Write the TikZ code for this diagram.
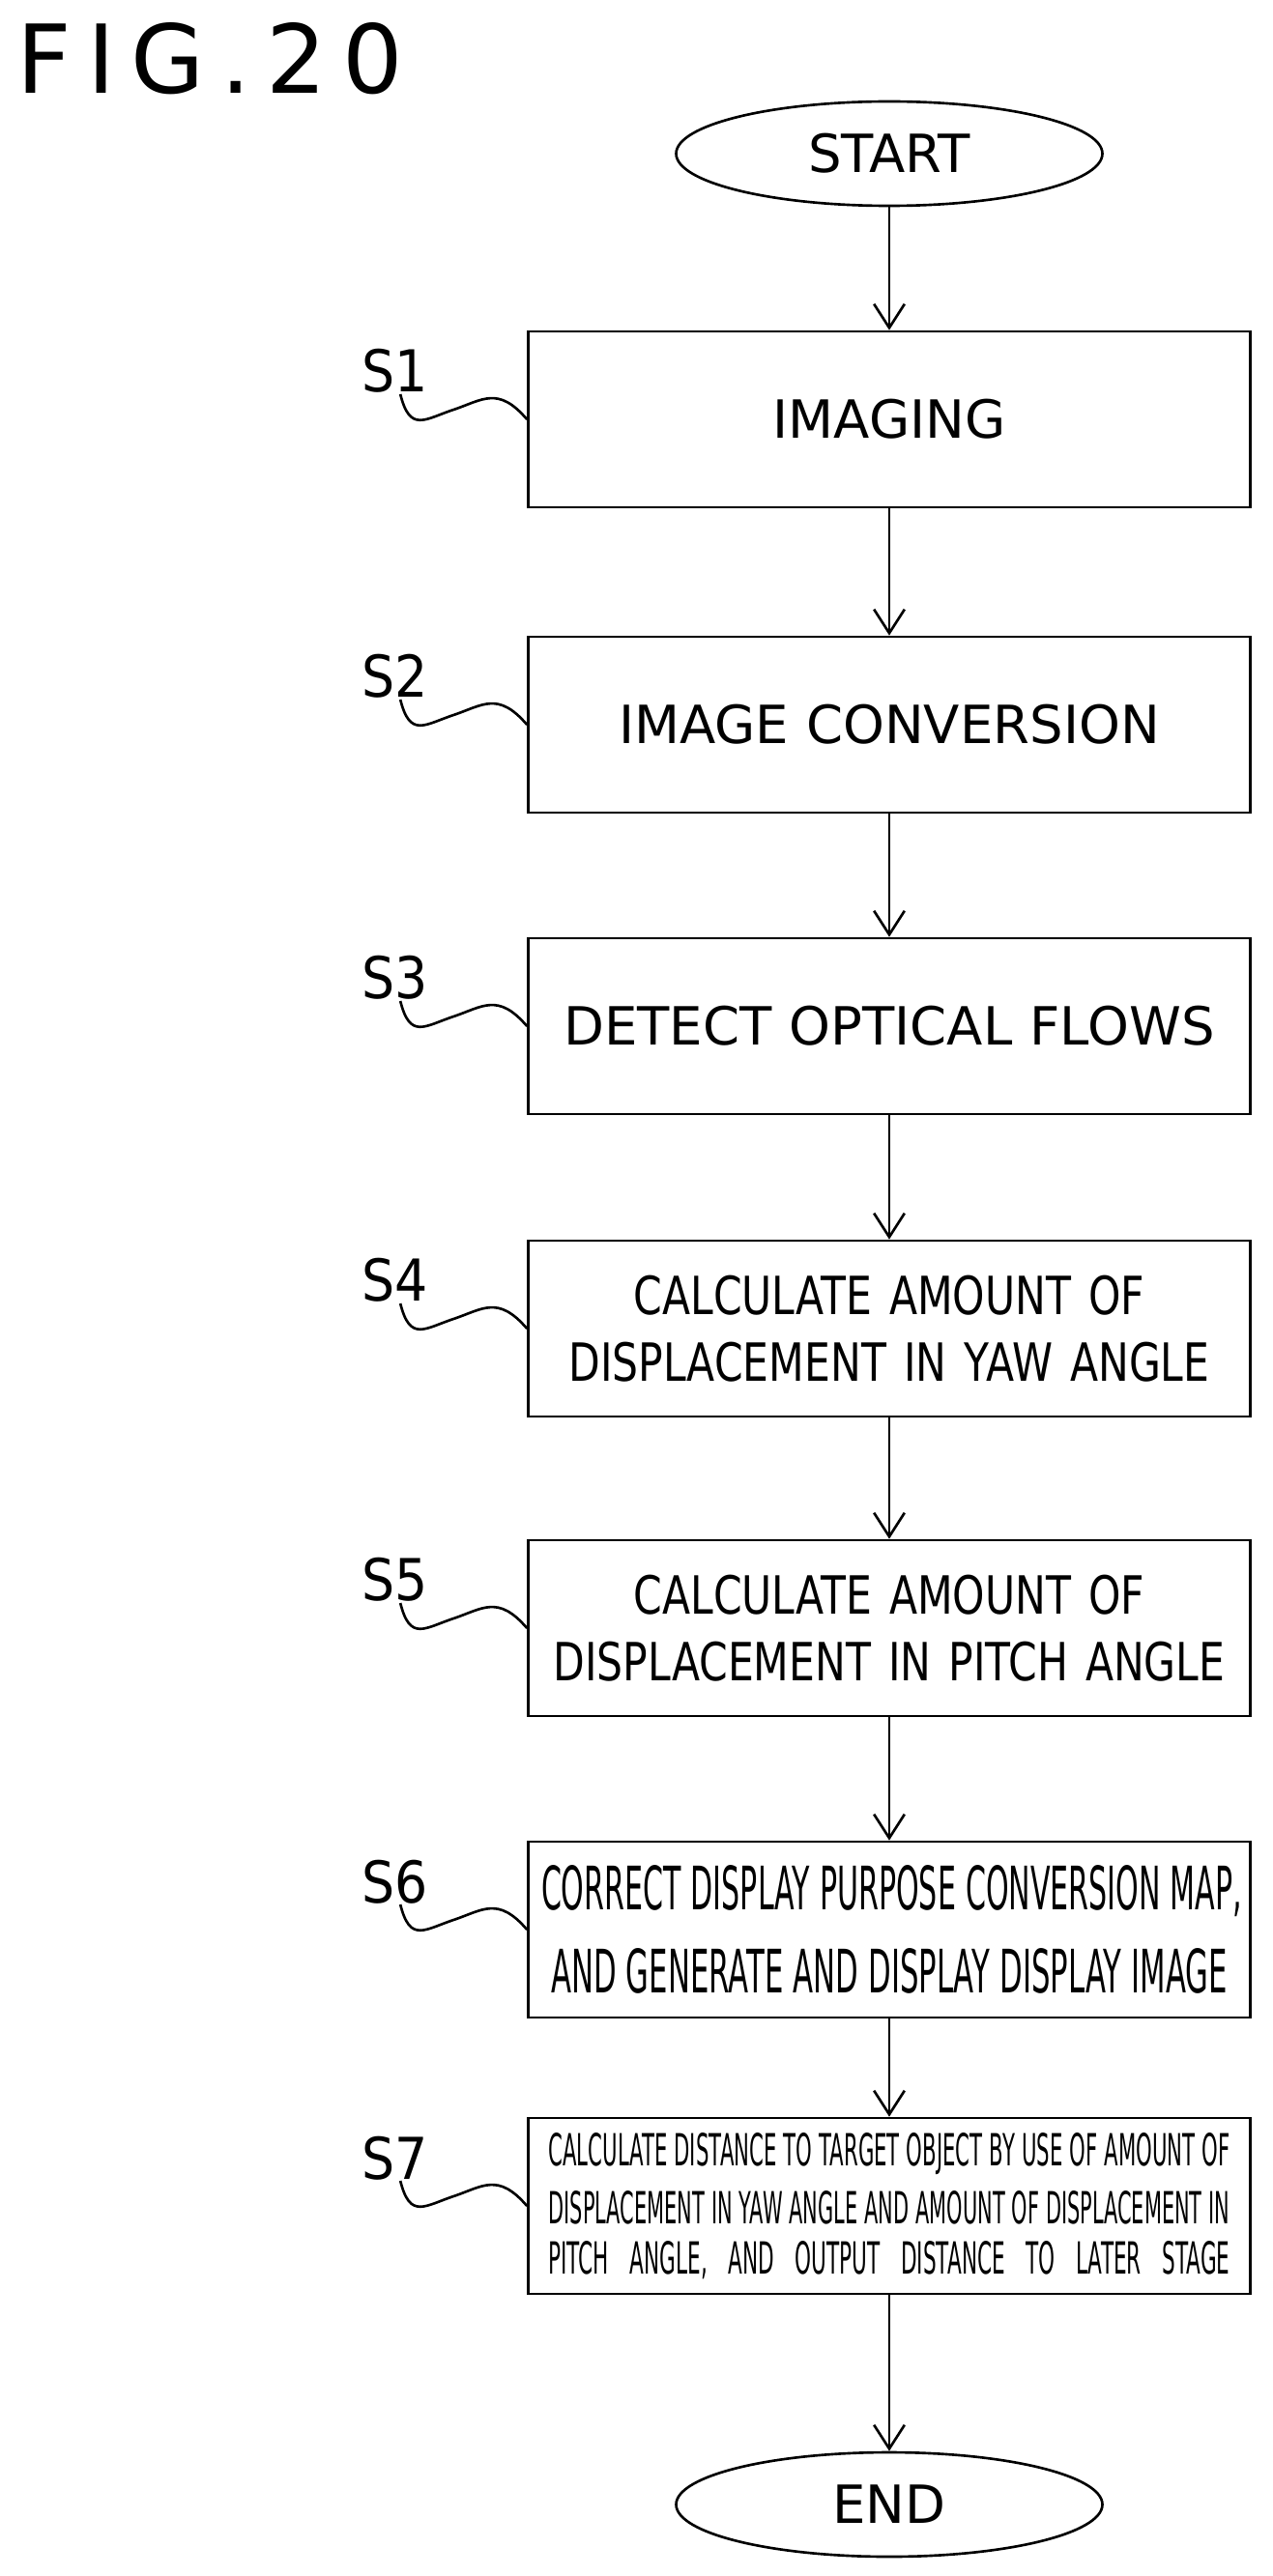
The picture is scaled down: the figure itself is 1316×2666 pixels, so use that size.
\documentclass[tikz,border=0pt]{standalone}
\usepackage{fontspec}
\setmainfont{DejaVu Sans}
\usepackage{graphicx}
\usetikzlibrary{arrows.meta, positioning, shapes.geometric}

\begin{document}
\begin{tikzpicture}[
    x=0.02cm, y=-0.02cm,
    line width=1.5pt,
    block/.style={
        rectangle,
        draw,
        text width=720*0.02cm,
        minimum width=747*0.02cm,
        minimum height=182*0.02cm,
        align=center,
        font=\fontsize{31}{39}\selectfont
    },
    narrow/.style={
        font=\fontsize{31}{39}\selectfont\addfontfeature{FakeStretch=0.78}
    },
    term/.style={
        ellipse,
        draw,
        minimum width=441*0.02cm,
        minimum height=108*0.02cm,
        font=\fontsize{31}{39}\selectfont
    },
    tag/.style={
        font=\fontsize{34}{40}\selectfont\addfontfeature{FakeStretch=0.9}
    },
    arrow/.style={
        -{Straight Barb[length=14pt, width=18pt]}
    }
]
\useasboundingbox (0,0) rectangle (1316,2666);

% Title
\node[anchor=north west, font=\fontsize{56}{56}\selectfont, inner sep=0pt] (title) at (16,22)
    {F\,I\,G\,.\,2\,0};

% Flow nodes
\node[term] (start) at (920,159) {START};
\node[block] (s1) at (920,434) {IMAGING};
\node[block] (s2) at (920,750) {IMAGE CONVERSION};
\node[block] (s3) at (920,1062) {DETECT OPTICAL FLOWS};
\node[block, narrow] (s4) at (920,1375) {CALCULATE AMOUNT OF\\DISPLACEMENT IN YAW ANGLE};
\node[block, narrow] (s5) at (920,1685) {CALCULATE AMOUNT OF\\DISPLACEMENT IN PITCH ANGLE};
\node[block, font=\normalsize] (s6) at (920,1997) {%
    \resizebox{14.5cm}{0.92cm}{CORRECT DISPLAY PURPOSE CONVERSION MAP,}\\[0.62cm]
    \resizebox{14.0cm}{0.92cm}{AND GENERATE AND DISPLAY DISPLAY IMAGE}};
\node[block, font=\normalsize] (s7) at (920,2283) {%
    \resizebox{14.1cm}{0.68cm}{CALCULATE DISTANCE TO TARGET OBJECT BY USE OF AMOUNT OF}\\[0.3cm]
    \resizebox{14.1cm}{0.68cm}{DISPLACEMENT IN YAW ANGLE AND AMOUNT OF DISPLACEMENT IN}\\[0.3cm]
    \resizebox{14.1cm}{0.68cm}{PITCH\ \ \ ANGLE,\ \ \ AND\ \ \ OUTPUT\ \ \ DISTANCE\ \ \ TO\ \ \ LATER\ \ \ STAGE}};
\node[term] (end) at (920,2592) {END};

% Connectors
\draw[arrow] (start) -- (s1);
\foreach \a/\b in {s1/s2, s2/s3, s3/s4, s4/s5, s5/s6, s6/s7}
    \draw[arrow] (\a) -- (\b);
\draw[arrow] (s7) -- (end);

% Step tags with wavy leaders
\foreach \i in {1,...,7} {
    \node[tag, anchor=south] (t\i) at ([xshift=-137*0.02cm, yshift=20*0.02cm]s\i.west) {S\i};
    \draw ([xshift=6*0.02cm, yshift=6*0.02cm]t\i.south)
        .. controls +(10,40) and +(-30,10) .. ++(55,16)
        .. controls +(30,-10) and +(-30,-35) .. (s\i.west);
}

\end{tikzpicture}
\end{document}
